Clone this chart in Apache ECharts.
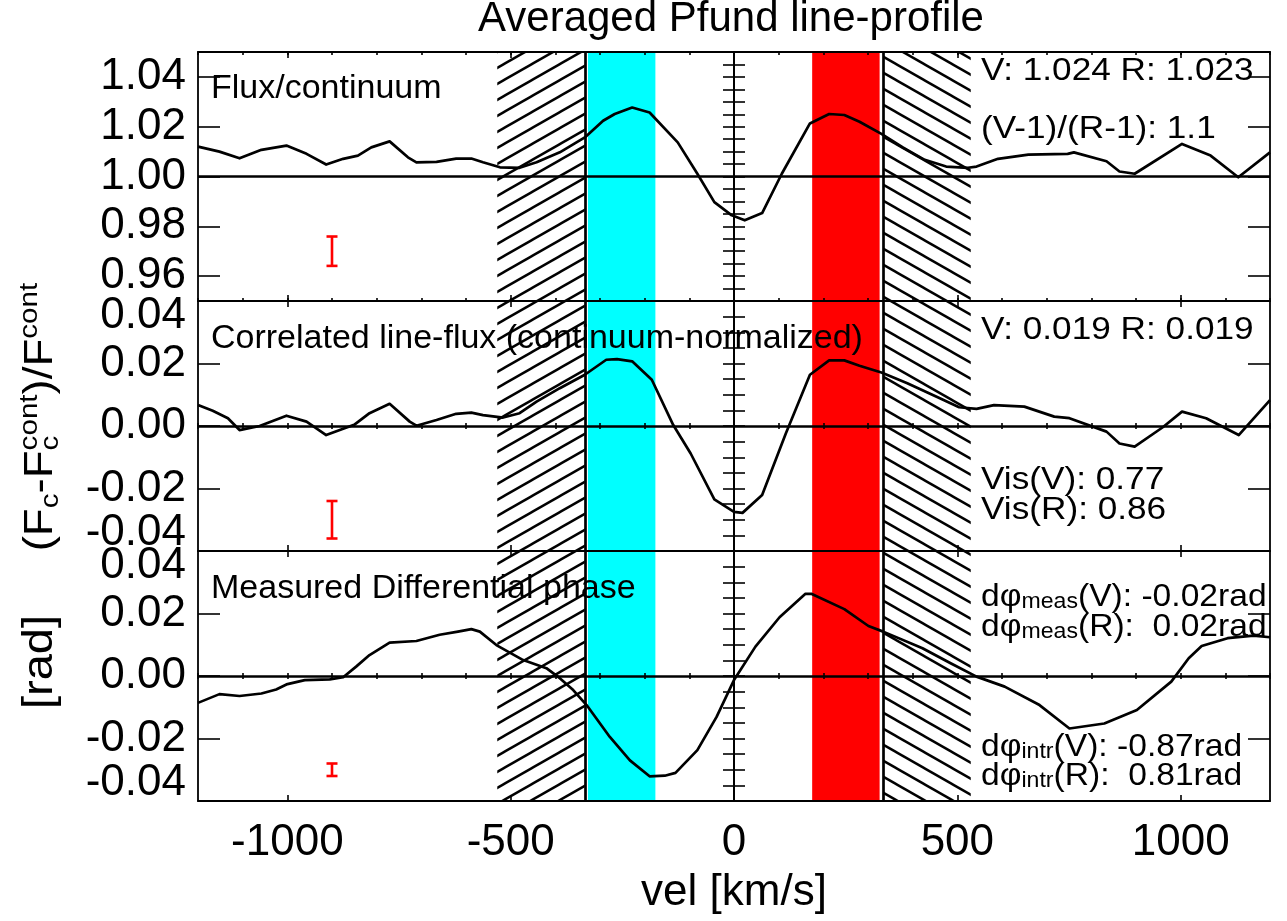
<!DOCTYPE html>
<html><head><meta charset="utf-8">
<script src="https://cdn.jsdelivr.net/npm/echarts@6/dist/echarts.min.js"></script>
<style>html,body{margin:0;padding:0;background:#fff}#c{width:1287px;height:921px}</style>
</head><body><div id="c"></div>
<script>
// ---------------- data ----------------
const vel1 = [-1200,-1152,-1107,-1058,-1002,-957,-913,-875,-842,-812,-771,-730,-711,-666,-622,-588,-562,-524,-480,-442,-390,-334,-293,-267,-228,-189,-126,-82,-44,-5,24,63,107,170,213,247,281,330,378,427,475,524,543,591,659,747,761,834,863,897,1003,1067,1129,1200];
const flux1 = [1.012,1.010,1.0073,1.0107,1.0124,1.0091,1.0048,1.0071,1.0084,1.0117,1.0141,1.0077,1.0057,1.0059,1.0072,1.0072,1.0057,1.0037,1.0035,1.0057,1.0097,1.0157,1.0224,1.0251,1.0277,1.0257,1.0137,1.0011,0.9897,0.9844,0.9824,0.9853,1.0011,1.0213,1.0251,1.0247,1.022,1.0171,1.0117,1.0067,1.004,1.0035,1.004,1.0071,1.0088,1.0091,1.0097,1.0061,1.002,1.0011,1.0131,1.0084,0.9997,1.0097];
const vel2 = [-1200,-1167,-1133,-1107,-1062,-1002,-957,-913,-849,-816,-771,-726,-711,-666,-622,-588,-562,-517,-480,-442,-390,-334,-286,-262,-228,-184,-136,-97,-44,0,19,63,116,170,213,247,281,330,388,456,504,543,582,650,717,751,834,863,897,960,1003,1057,1130,1200];
const corr2 = [0.0067,0.0049,0.0025,-0.0013,0.0,0.0033,0.0014,-0.0029,0.0005,0.0041,0.0071,0.0014,0.0001,0.0019,0.0039,0.0043,0.0035,0.0027,0.0041,0.0078,0.0121,0.0164,0.0212,0.0214,0.0207,0.0148,0.0003,-0.0088,-0.0235,-0.0275,-0.0278,-0.0221,-0.0024,0.0164,0.021,0.021,0.0193,0.0171,0.0137,0.0092,0.006,0.0055,0.0067,0.0062,0.003,0.0025,-0.0018,-0.0056,-0.0066,-0.0004,0.0046,0.0025,-0.0029,0.0083];
const vel3 = [-1200,-1152,-1107,-1058,-1025,-1002,-961,-905,-875,-846,-816,-771,-711,-659,-618,-588,-569,-532,-472,-420,-390,-360,-330,-278,-233,-189,-155,-131,-82,-39,0,48,102,160,173,247,301,334,422,485,543,606,684,751,829,902,979,1018,1047,1105,1163,1200];
const phase3 = [-0.0086,-0.0058,-0.0064,-0.0056,-0.0043,-0.0027,-0.0013,-0.0011,-0.0004,0.003,0.0067,0.0107,0.0112,0.0132,0.0142,0.015,0.0142,0.0099,0.0051,0.0025,-0.0007,-0.0045,-0.0093,-0.0195,-0.027,-0.0321,-0.0319,-0.031,-0.0237,-0.0131,-0.0013,0.0094,0.0188,0.0263,0.0263,0.0214,0.016,0.0142,0.0089,0.0041,-0.0002,-0.0034,-0.0093,-0.0168,-0.0152,-0.0109,-0.0018,0.0057,0.0096,0.0121,0.0129,0.0124];

const xMajorTicks = [-1000,-500,0,500,1000];
const yTicks1 = [0.96,0.98,1.00,1.02,1.04];
const yTicks23 = [-0.04,-0.02,0.00,0.02,0.04];
const cyanBand = [-327,-176];
const redBand = [175,326];
const hatchLeft = [-530,-334];
const hatchRight = [334,530];
const sepLines = [-334,334];
const errX = -900;
const errY = [0.970,-0.030,-0.030];
const errHalf = [0.0059,0.006,0.002];
const refLevel = [1.0,0,0];
const panelTitles = ['Flux/continuum','Correlated line-flux (continuum-normalized)','Measured Differential phase'];

// ---------------- layout / style ----------------
const FONT = '"Liberation Sans", Arial, Helvetica, sans-serif';
const gridTop = [52,301,551], gridH = [249,250,250];
const GL = 198, GW = 1072;

function hatchTile(dir){
  const W=28,H=16;
  const c=document.createElement('canvas'); c.width=W; c.height=H;
  const ctx=c.getContext('2d'); ctx.strokeStyle='#000'; ctx.lineWidth=2.5;
  for(let k=-1;k<=1;k++){
    ctx.beginPath();
    if(dir>0){ ctx.moveTo(-W,2*H+k*H); ctx.lineTo(2*W,-H+k*H); }
    else { ctx.moveTo(-W,-H+k*H); ctx.lineTo(2*W,2*H+k*H); }
    ctx.stroke();
  }
  return c;
}
const tileL = hatchTile(1), tileR = hatchTile(-1);

const tickStyle = {color:'#000', width:1.6};
const frameLine = {show:true, onZero:false, lineStyle:{color:'#000', width:1.8}};

const xAxis=[], yAxis=[], grid=[], series=[];
for(let g=0; g<3; g++){
  grid.push({left:GL, top:gridTop[g], width:GW, height:gridH[g], show:false, outerBoundsMode:'none', containLabel:false});
  const xb = {gridIndex:g, type:'value', min:-1200, max:1200, z:10, splitLine:{show:false}, axisPointer:{show:false}};
  xAxis.push(Object.assign({}, xb, {position:'bottom', axisLine:frameLine,
    axisTick:{show:true, inside:true, length:6, customValues:xMajorTicks, lineStyle:tickStyle},
    axisLabel:{show:g===2, customValues:xMajorTicks, margin:20, color:'#000', fontSize:44, fontFamily:FONT, formatter:v=>String(v)}}));
  xAxis.push(Object.assign({}, xb, {position:'bottom', interval:100, axisLine:{show:false},
    axisTick:{show:true, inside:true, length:3, lineStyle:tickStyle}, axisLabel:{show:false}}));
  xAxis.push(Object.assign({}, xb, {position:'top', axisLine:frameLine,
    axisTick:{show:true, inside:true, length:6, customValues:xMajorTicks, lineStyle:tickStyle}, axisLabel:{show:false}}));
  xAxis.push(Object.assign({}, xb, {position:'top', interval:100, axisLine:{show:false},
    axisTick:{show:true, inside:true, length:3, lineStyle:tickStyle}, axisLabel:{show:false}}));

  const rng = g===0 ? [0.95,1.05] : [-0.04,0.04];
  const major = g===0 ? yTicks1 : yTicks23;
  const yb = {gridIndex:g, type:'value', min:rng[0], max:rng[1], z:10, splitLine:{show:false}, axisPointer:{show:false}};
  const fmt = v => {
    const s = Math.abs(v)<1e-9 ? '0.00' : v.toFixed(2);
    if(g>0 && v>0.039) return '{t|'+s+'}';
    if(g>0 && v<-0.039) return '{b|'+s+'}';
    return s;
  };
  yAxis.push(Object.assign({}, yb, {position:'left', axisLine:frameLine,
    axisTick:{show:true, inside:true, length:22, customValues:major, lineStyle:tickStyle},
    axisLabel:{show:true, customValues:major, margin:12, color:'#000', fontSize:44, fontFamily:FONT, formatter:fmt,
      rich:{t:{fontSize:44, fontFamily:FONT, color:'#000', padding:[30,0,0,0]}, b:{fontSize:44, fontFamily:FONT, color:'#000', padding:[0,0,36,0]}}}}));
  yAxis.push(Object.assign({}, yb, {position:'left', interval:0.005, axisLine:{show:false},
    axisTick:{show:true, inside:true, length:11, lineStyle:tickStyle}, axisLabel:{show:false}}));
  yAxis.push(Object.assign({}, yb, {position:'right', axisLine:frameLine,
    axisTick:{show:true, inside:true, length:22, customValues:major, lineStyle:tickStyle}, axisLabel:{show:false}}));
  yAxis.push(Object.assign({}, yb, {position:'right', interval:0.005, axisLine:{show:false},
    axisTick:{show:true, inside:true, length:11, lineStyle:tickStyle}, axisLabel:{show:false}}));
}

const panelData = [[vel1,flux1],[vel2,corr2],[vel3,phase3]];
panelData.forEach((p,g)=>{
  series.push({
    type:'line', xAxisIndex:4*g+1, yAxisIndex:4*g+1, z:3, silent:true, clip:true,
    data:p[0].map((v,i)=>[v,p[1][i]]),
    symbol:'none', showSymbol:false, lineStyle:{color:'#000', width:2.7, join:'round'},
    markArea:{silent:true, label:{show:false}, data:[
      [{xAxis:hatchLeft[0], itemStyle:{color:{image:tileL, repeat:'repeat'}, opacity:1}},{xAxis:hatchLeft[1]}],
      [{xAxis:hatchRight[0], itemStyle:{color:{image:tileR, repeat:'repeat'}, opacity:1}},{xAxis:hatchRight[1]}],
      [{xAxis:cyanBand[0], itemStyle:{color:'#00ffff', opacity:1}},{xAxis:cyanBand[1]}],
      [{xAxis:redBand[0], itemStyle:{color:'#ff0000', opacity:1}},{xAxis:redBand[1]}]
    ]},
    markLine:{silent:true, symbol:['none','none'], label:{show:false}, lineStyle:{color:'#000', type:'solid', width:2.7},
      data:[{xAxis:sepLines[0]},{xAxis:sepLines[1]},{xAxis:0, lineStyle:{color:'#000', type:'solid', width:2}},{yAxis:refLevel[g]}]}
  });
  series.push({
    type:'custom', xAxisIndex:4*g+1, yAxisIndex:4*g+1, z:4, silent:true,
    data:[[errX, errY[g], errHalf[g]]],
    renderItem:(params, api)=>{
      const x=api.value(0), y=api.value(1), e=api.value(2);
      const a=api.coord([x,y-e]), b=api.coord([x,y+e]);
      const w=5.5, st={stroke:'#ff0000', lineWidth:2.6};
      return {type:'group', children:[
        {type:'line', shape:{x1:a[0],y1:a[1],x2:b[0],y2:b[1]}, style:st},
        {type:'line', shape:{x1:a[0]-w,y1:a[1],x2:a[0]+w,y2:a[1]}, style:st},
        {type:'line', shape:{x1:b[0]-w,y1:b[1],x2:b[0]+w,y2:b[1]}, style:st}
      ]};
    }
  });
});

// ---------------- texts ----------------
function T(x,y,text,size,align,extra){
  return Object.assign({type:'text', x:x, y:y, z:20, silent:true, style:{text:text, fontSize:size, fontFamily:FONT, fill:'#000',
    align:align||'left', textAlign:align||'left', verticalAlign:'middle', textVerticalAlign:'middle'}}, extra||{});
}
const SX = 1.1, SXS = 1.05, RF = 32;
function R(x,y,text){ return T(x,y,text,RF,'left',{scaleX:SX}); }
function RS(x,y,pre,sub,post){
  return {type:'text', x:x, y:y, z:20, silent:true, scaleX:SXS, style:{
    text:'{a|'+pre+'}{s|'+sub+'}{a|'+post+'}', fontFamily:FONT, fontSize:RF, fill:'#000',
    align:'left', textAlign:'left', verticalAlign:'middle', textVerticalAlign:'middle',
    rich:{a:{fontSize:RF, fontFamily:FONT, fill:'#000', lineHeight:42, verticalAlign:'bottom'},
          s:{fontSize:22, fontFamily:FONT, fill:'#000', lineHeight:22, verticalAlign:'bottom'}}}};
}

// rotated y-axis title pieces
const mctx = document.createElement('canvas').getContext('2d');
function tw(t,s){ mctx.font = s+'px "Liberation Sans"'; return mctx.measureText(t).width; }
const YM=40, YS=26, MID=0.3465;
function yPieces(){
  const out=[]; let u=0;
  const main=t=>{ out.push({t:t,s:YM,u:u,b:0}); u+=tw(t,YM); };
  const sub=t=>{ out.push({t:t,s:YS,u:u,b:5}); };
  const sup=t=>{ out.push({t:t,s:YS,u:u,b:-16}); };
  main('('); main('F'); sub('c'); u+=tw('c',YS);
  main('-'); main('F'); sub('c'); sup('cont'); u+=Math.max(tw('c',YS),tw('cont',YS));
  main(')'); main('/'); main('F'); sup('cont'); u+=tw('cont',YS);
  const total=u;
  return out.map(p=>({type:'text', x:p.u-total/2, y:p.b-MID*p.s, silent:true,
    style:{text:p.t, fontSize:p.s, fontFamily:FONT, fill:'#000', align:'left', textAlign:'left', verticalAlign:'middle', textVerticalAlign:'middle'}}));
}

const graphic = [
  T(731,19,'Averaged Pfund line-profile',42,'center'),
  T(734,893,'vel [km/s]',44,'center'),
  {type:'group', x:55, y:417, rotation:Math.PI/2, scaleX:1.14, z:20, silent:true, children:yPieces()},
  {type:'group', x:55, y:662, rotation:Math.PI/2, scaleX:1.12, z:20, silent:true, children:[
    {type:'text', x:0, y:-MID*42, style:{text:'[rad]', fontSize:42, fontFamily:FONT, fill:'#000', align:'center', textAlign:'center', verticalAlign:'middle', textVerticalAlign:'middle'}}]},
  T(211,89,panelTitles[0],34),
  T(211,339,panelTitles[1],34),
  T(211,589,panelTitles[2],34),
  R(981,71,'V: 1.024 R: 1.023'),
  R(981,129,'(V-1)/(R-1): 1.1'),
  R(981,330,'V: 0.019 R: 0.019'),
  R(981,480,'Vis(V): 0.77'),
  R(981,510,'Vis(R): 0.86'),
  RS(981,592,'dφ','meas','(V): -0.02rad'),
  RS(981,622,'dφ','meas','(R):  0.02rad'),
  RS(981,742,'dφ','intr','(V): -0.87rad'),
  RS(981,771,'dφ','intr','(R):  0.81rad')
];

const chart = echarts.init(document.getElementById('c'), null, {renderer:'canvas', width:1287, height:921});
chart.setOption({
  animation:false, backgroundColor:'#ffffff',
  textStyle:{fontFamily:FONT, color:'#000'},
  grid:grid, xAxis:xAxis, yAxis:yAxis, series:series, graphic:graphic
});
</script></body></html>
